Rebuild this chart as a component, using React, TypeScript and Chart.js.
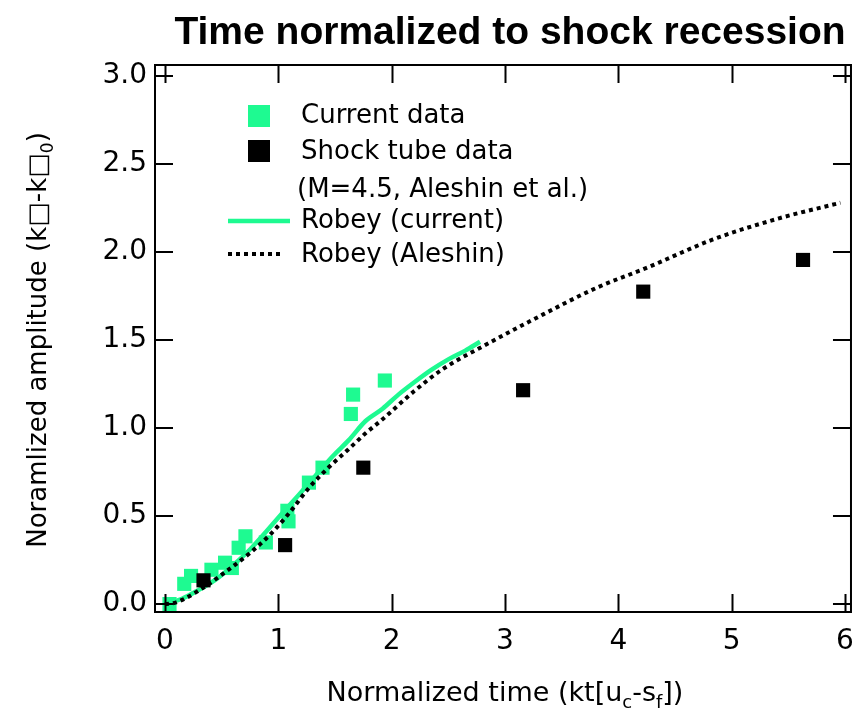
import React, { useEffect, useRef } from "react";
import { Chart, registerables } from "chart.js";

Chart.register(...registerables);

// Measured amplitudes, current experiment
const currentDataX = [0.04, 0.17, 0.23, 0.41, 0.53, 0.59, 0.65, 0.71, 0.89, 1.08, 1.09, 1.27, 1.39, 1.64, 1.66, 1.94];
const currentDataY = [0.0, 0.115, 0.16, 0.195, 0.235, 0.205, 0.32, 0.385, 0.35, 0.53, 0.47, 0.69, 0.775, 1.08, 1.19, 1.27];

// Shock tube measurements (M=4.5, Aleshin et al.)
const shockTubeX = [0.34, 1.06, 1.75, 3.16, 4.22, 5.63];
const shockTubeY = [0.135, 0.335, 0.775, 1.215, 1.775, 1.955];

// Robey model, current conditions
const robeyCurrentX = [0.0, 0.15, 0.31, 0.45, 0.6, 0.75, 0.89, 1.04, 1.18, 1.33, 1.48, 1.62, 1.77, 1.92, 2.06, 2.2, 2.35, 2.5, 2.65, 2.78];
const robeyCurrentY = [0.0, 0.03, 0.085, 0.14, 0.22, 0.31, 0.41, 0.52, 0.62, 0.73, 0.84, 0.93, 1.04, 1.11, 1.19, 1.26, 1.33, 1.39, 1.44, 1.49];

// Robey model, Aleshin conditions
const robeyAleshinX = [0.0, 0.1, 0.33, 0.57, 0.75, 0.92, 1.1, 1.27, 1.45, 1.62, 1.77, 1.92, 2.2, 2.44, 2.85, 3.23, 3.82, 4.25, 4.83, 5.41, 5.96];
const robeyAleshinY = [0.0, 0.01, 0.09, 0.2, 0.29, 0.39, 0.52, 0.66, 0.78, 0.88, 0.97, 1.05, 1.21, 1.33, 1.48, 1.61, 1.8, 1.91, 2.07, 2.19, 2.28];

const xRange = [-0.088, 6.053];
const yRange = [-0.045, 3.0625];
const xStep = 1;
const yStep = 0.5;

const GREEN = "#1EFA91";
const BLACK = "#000000";
const FONT = "'DejaVu Sans', sans-serif";

const pts = (xs: number[], ys: number[]) => xs.map((x, i) => ({ x, y: ys[i] }));

type Part = { t: string; sub?: boolean };

function richWidth(ctx: CanvasRenderingContext2D, parts: Part[], size: number) {
  let w = 0;
  for (const p of parts) {
    ctx.font = `${p.sub ? Math.round(size * 0.65) : size}px ${FONT}`;
    w += ctx.measureText(p.t).width;
  }
  return w;
}

function drawRich(ctx: CanvasRenderingContext2D, parts: Part[], x: number, y: number, size: number) {
  // x is the centre, y the baseline
  const w = richWidth(ctx, parts, size);
  let cx = x - w / 2;
  ctx.textAlign = "left";
  ctx.textBaseline = "alphabetic";
  for (const p of parts) {
    const s = p.sub ? Math.round(size * 0.65) : size;
    ctx.font = `${s}px ${FONT}`;
    ctx.fillText(p.t, cx, p.sub ? y + size * 0.25 : y);
    cx += ctx.measureText(p.t).width;
  }
}

const framePlugin = {
  id: "frameAndTicks",
  afterDatasetsDraw(chart: any) {
    const { ctx, chartArea: a, scales } = chart;
    const len = 18;
    ctx.save();
    ctx.strokeStyle = BLACK;
    ctx.lineWidth = 2;
    ctx.beginPath();
    for (const t of scales.x.ticks) {
      const px = Math.round(scales.x.getPixelForValue(t.value)) + 0.5;
      ctx.moveTo(px, a.bottom);
      ctx.lineTo(px, a.bottom - len);
      ctx.moveTo(px, a.top);
      ctx.lineTo(px, a.top + len);
    }
    for (const t of scales.y.ticks) {
      const py = Math.round(scales.y.getPixelForValue(t.value));
      ctx.moveTo(a.left, py);
      ctx.lineTo(a.left + len, py);
      ctx.moveTo(a.right, py);
      ctx.lineTo(a.right - len, py);
    }
    ctx.stroke();
    ctx.strokeRect(a.left, a.top, a.right - a.left, a.bottom - a.top);
    ctx.restore();
  },
};

const textPlugin = {
  id: "texts",
  afterDraw(chart: any) {
    const { ctx, data } = chart;
    ctx.save();
    ctx.fillStyle = BLACK;

    // Title
    ctx.font = "bold 39px 'Liberation Sans', Arial, sans-serif";
    ctx.textAlign = "center";
    ctx.textBaseline = "alphabetic";
    ctx.fillText("Time normalized to shock recession", 510, 44);

    // X axis title
    drawRich(
      ctx,
      [{ t: "Normalized time (kt[u" }, { t: "c", sub: true }, { t: "-s" }, { t: "f", sub: true }, { t: "])" }],
      505,
      701,
      27
    );

    // Y axis title
    ctx.save();
    ctx.translate(46, 340);
    ctx.rotate(-Math.PI / 2);
    drawRich(
      ctx,
      [{ t: "Noramlized amplitude (k\u25A1-k\u25A1" }, { t: "0", sub: true }, { t: ")" }],
      0,
      0,
      26
    );
    ctx.restore();

    // Legend
    const ds = data.datasets;
    const textX = 301;
    ctx.font = `26px ${FONT}`;
    ctx.textAlign = "left";
    ctx.textBaseline = "alphabetic";

    ctx.fillStyle = ds[0].backgroundColor;
    ctx.fillRect(248, 105, 22, 22);
    ctx.fillStyle = BLACK;
    ctx.fillText(ds[0].label, textX, 123);

    ctx.fillStyle = ds[1].backgroundColor;
    ctx.fillRect(248, 140, 22, 22);
    ctx.fillStyle = BLACK;
    ctx.fillText(ds[1].label, textX, 159);
    ctx.fillText("(M=4.5, Aleshin et al.)", 297, 197);

    ctx.strokeStyle = ds[2].borderColor;
    ctx.lineWidth = ds[2].borderWidth;
    ctx.beginPath();
    ctx.moveTo(228, 221);
    ctx.lineTo(290, 221);
    ctx.stroke();
    ctx.fillText(ds[2].label, textX, 228);

    ctx.strokeStyle = ds[3].borderColor;
    ctx.lineWidth = ds[3].borderWidth;
    ctx.setLineDash(ds[3].borderDash);
    ctx.beginPath();
    ctx.moveTo(228, 254);
    ctx.lineTo(282, 254);
    ctx.stroke();
    ctx.setLineDash([]);
    ctx.fillText(ds[3].label, textX, 262);

    ctx.restore();
  },
};

export default function App() {
  const ref = useRef<HTMLCanvasElement>(null);

  useEffect(() => {
    if (!ref.current) return;
    const chart = new Chart(ref.current, {
      type: "scatter",
      data: {
        datasets: [
          {
            label: "Current data",
            data: pts(currentDataX, currentDataY),
            backgroundColor: GREEN,
            borderColor: GREEN,
            pointStyle: "rect",
            pointRadius: 10,
            pointBorderWidth: 0,
            pointHoverRadius: 10,
            order: 3,
          },
          {
            label: "Shock tube data",
            data: pts(shockTubeX, shockTubeY),
            backgroundColor: BLACK,
            borderColor: BLACK,
            pointStyle: "rect",
            pointRadius: 10,
            pointBorderWidth: 0,
            pointHoverRadius: 10,
            order: 1,
          },
          {
            label: "Robey (current)",
            data: pts(robeyCurrentX, robeyCurrentY),
            showLine: true,
            borderColor: GREEN,
            backgroundColor: GREEN,
            borderWidth: 4.5,
            pointRadius: 0,
            cubicInterpolationMode: "monotone",
            order: 2,
          },
          {
            label: "Robey (Aleshin)",
            data: pts(robeyAleshinX, robeyAleshinY),
            showLine: true,
            borderColor: BLACK,
            backgroundColor: BLACK,
            borderWidth: 4,
            borderDash: [4, 4],
            pointRadius: 0,
            cubicInterpolationMode: "monotone",
            order: 0,
          },
        ],
      } as any,
      options: {
        responsive: false,
        animation: false,
        events: [],
        layout: { padding: { left: 0, right: 14, top: 65, bottom: 0 } },
        plugins: {
          legend: { display: false },
          title: { display: false },
          tooltip: { enabled: false },
        },
        scales: {
          x: {
            type: "linear",
            min: xRange[0],
            max: xRange[1],
            border: { display: false },
            grid: { display: false, drawTicks: false },
            ticks: {
              stepSize: xStep,
              includeBounds: false,
              color: BLACK,
              font: { family: FONT, size: 28 },
              padding: 13,
              maxRotation: 0,
              callback: (v: any) => String(v),
            },
            afterFit: (s: any) => {
              s.height = 98;
            },
          },
          y: {
            type: "linear",
            min: yRange[0],
            max: yRange[1],
            border: { display: false },
            grid: { display: false, drawTicks: false },
            ticks: {
              stepSize: yStep,
              includeBounds: false,
              color: BLACK,
              font: { family: FONT, size: 28 },
              padding: 8,
              callback: (v: any) => Number(v).toFixed(1),
            },
            afterFit: (s: any) => {
              s.width = 155;
            },
          },
        },
      } as any,
      plugins: [framePlugin, textPlugin],
    });
    return () => chart.destroy();
  }, []);

  return (
    <div style={{ position: "fixed", left: 0, top: 0, width: 867, height: 710, background: "#fff" }}>
      <canvas ref={ref} width={867} height={710} style={{ width: 867, height: 710 }} />
    </div>
  );
}
